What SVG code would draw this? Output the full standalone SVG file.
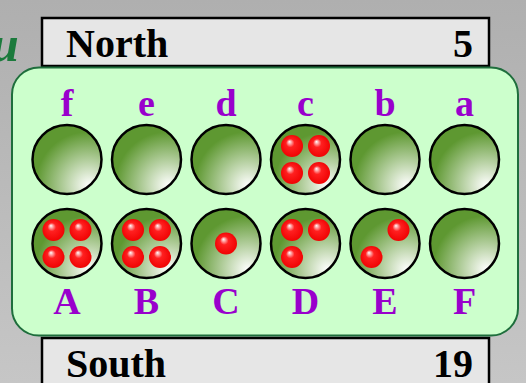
<svg xmlns="http://www.w3.org/2000/svg" width="526" height="383" viewBox="0 0 526 383">
<defs>
<linearGradient id="bg" x1="0" y1="0" x2="0" y2="1">
<stop offset="0" stop-color="#afafaf"/>
<stop offset="1" stop-color="#c6c6c6"/>
</linearGradient>
<radialGradient id="pitg" cx="0.8" cy="0.85" r="0.75" fx="0.82" fy="0.88">
<stop offset="0" stop-color="#ffffff"/>
<stop offset="1" stop-color="#5e9831"/>
</radialGradient>
<radialGradient id="stoneg" cx="0.5" cy="0.5" r="0.55" fx="0.38" fy="0.3">
<stop offset="0" stop-color="#ffffff"/>
<stop offset="0.35" stop-color="#ff2020"/>
<stop offset="1" stop-color="#ee0000"/>
</radialGradient>
<circle id="pit" r="34.5" fill="url(#pitg)" stroke="#000" stroke-width="2.5"/>
<circle id="stone" r="11" fill="url(#stoneg)"/>
</defs>
<style>
.box{fill:#e6e6e6;stroke:#000;stroke-width:2.5}
.bt{font-family:"Liberation Serif",serif;font-weight:bold;font-size:40px;fill:#000}
.lb{font-family:"Liberation Serif",serif;font-weight:bold;font-size:38px;fill:#9900cc;text-anchor:middle}
</style>
<rect width="526" height="383" fill="url(#bg)"/>
<text x="-9" y="61" font-family="Liberation Serif, serif" font-style="italic" font-weight="bold" font-size="50" fill="#1b7a3c">u</text>
<g id="north">
<rect class="box" x="42" y="18" width="447" height="48"/>
<text class="bt" x="66" y="57">North</text>
<text class="bt" x="473" y="57" text-anchor="end">5</text>
</g>
<g id="south">
<rect class="box" x="42" y="338" width="447" height="60"/>
<text class="bt" x="66" y="377">South</text>
<text class="bt" x="473" y="377" text-anchor="end">19</text>
</g>
<g id="board">
<rect x="12" y="67.5" width="506" height="268" rx="27" fill="#ccffcc" stroke="#1e6e3c" stroke-width="2"/>
</g>
<g id="labels-top">
<text class="lb" x="67" y="116">f</text>
<text class="lb" x="146.5" y="116">e</text>
<text class="lb" x="226" y="116">d</text>
<text class="lb" x="305.5" y="116">c</text>
<text class="lb" x="385" y="116">b</text>
<text class="lb" x="464.5" y="116">a</text>
</g>
<g id="labels-bottom">
<text class="lb" x="67" y="314">A</text>
<text class="lb" x="146.5" y="314">B</text>
<text class="lb" x="226" y="314">C</text>
<text class="lb" x="305.5" y="314">D</text>
<text class="lb" x="385" y="314">E</text>
<text class="lb" x="464.5" y="314">F</text>
</g>
<g id="pit-f" transform="translate(67,159.5)"><use href="#pit"/></g>
<g id="pit-e" transform="translate(146.5,159.5)"><use href="#pit"/></g>
<g id="pit-d" transform="translate(226,159.5)"><use href="#pit"/></g>
<g id="pit-c" transform="translate(305.5,159.5)"><use href="#pit"/>
<use href="#stone" x="-13.5" y="-13.5"/><use href="#stone" x="13.5" y="-13.5"/><use href="#stone" x="-13.5" y="13.5"/><use href="#stone" x="13.5" y="13.5"/></g>
<g id="pit-b" transform="translate(385,159.5)"><use href="#pit"/></g>
<g id="pit-a" transform="translate(464.5,159.5)"><use href="#pit"/></g>
<g id="pit-A" transform="translate(67,243.5)"><use href="#pit"/>
<use href="#stone" x="-13.5" y="-13.5"/><use href="#stone" x="13.5" y="-13.5"/><use href="#stone" x="-13.5" y="13.5"/><use href="#stone" x="13.5" y="13.5"/></g>
<g id="pit-B" transform="translate(146.5,243.5)"><use href="#pit"/>
<use href="#stone" x="-13.5" y="-13.5"/><use href="#stone" x="13.5" y="-13.5"/><use href="#stone" x="-13.5" y="13.5"/><use href="#stone" x="13.5" y="13.5"/></g>
<g id="pit-C" transform="translate(226,243.5)"><use href="#pit"/>
<use href="#stone" x="0" y="0"/></g>
<g id="pit-D" transform="translate(305.5,243.5)"><use href="#pit"/>
<use href="#stone" x="-13.5" y="-13.5"/><use href="#stone" x="13.5" y="-13.5"/><use href="#stone" x="-13.5" y="13.5"/></g>
<g id="pit-E" transform="translate(385,243.5)"><use href="#pit"/>
<use href="#stone" x="13.5" y="-13.5"/><use href="#stone" x="-13.5" y="13.5"/></g>
<g id="pit-F" transform="translate(464.5,243.5)"><use href="#pit"/></g>
<g id="connectors"/>
</svg>
